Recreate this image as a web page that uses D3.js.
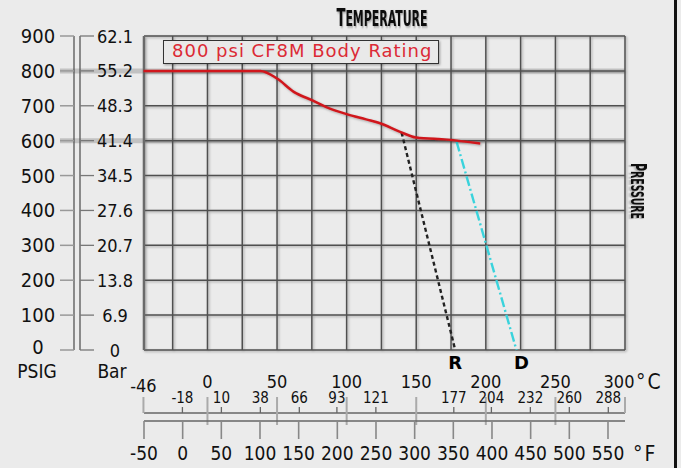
<!DOCTYPE html>
<html>
<head>
<meta charset="utf-8">
<script src="https://cdn.jsdelivr.net/npm/d3@7"></script>
<style>
  body { margin: 0; background: #ebebeb; }
  svg { display: block; font-family: "DejaVu Sans Condensed", "DejaVu Sans", sans-serif; }
</style>
</head>
<body>
<svg id="chart" width="681" height="468"></svg>
<script>
// pressure axes
var psigTicks = [0, 100, 200, 300, 400, 500, 600, 700, 800, 900];
var barTicks = ["0", "6.9", "13.8", "20.7", "27.6", "34.5", "41.4", "48.3", "55.2", "62.1"];
// temperature axes
var cMajor = [-46, 0, 50, 100, 150, 200, 250, 300];
var cMinor = [-18, 10, 38, 66, 93, 121, 177, 204, 232, 260, 288];
var fTicks = [-50, 0, 50, 100, 150, 200, 250, 300, 350, 400, 450, 500, 550];
var cGrid = [-25, 0, 25, 50, 75, 100, 125, 150, 175, 200, 225, 250, 275];
// body rating curve (degC, psig)
var ratingC = [-46, 38, 50, 62, 75, 85, 100, 114, 124, 138, 150, 172, 196];
var ratingP = [800, 800, 778, 740, 716, 697, 676, 661, 650, 626, 609, 603, 592];
// R and D lines (degC, psig)
var rC = [139.5, 178], rP = [623, 0];
var dC = [179, 222], dP = [597, 0];

var svg = d3.select("#chart");
var pLeft = 144, pRight = 625, pTop = 36, pBottom = 350;

var x = d3.scaleLinear().domain([-45.6, 300]).range([pLeft, pRight]);
var xF = d3.scaleLinear().domain([-50, 572]).range([pLeft, pRight]);
var y = d3.scaleLinear().domain([0, 900]).range([pBottom, pTop]);

// drop shadows: page units for flat lines, box units for text
var defs = svg.append("defs");
var sh = defs.append("filter").attr("id", "shadow").attr("filterUnits", "userSpaceOnUse")
    .attr("x", 0).attr("y", 0).attr("width", 681).attr("height", 468);
sh.append("feDropShadow").attr("dx", 1.2).attr("dy", 1.2).attr("stdDeviation", 0.9)
    .attr("flood-color", "#000").attr("flood-opacity", 0.3);
var tsh = defs.append("filter").attr("id", "tshadow")
    .attr("x", "-20%").attr("y", "-30%").attr("width", "140%").attr("height", "160%");
tsh.append("feDropShadow").attr("dx", 1.5).attr("dy", 1.5).attr("stdDeviation", 1)
    .attr("flood-color", "#000").attr("flood-opacity", 0.3);

// right frame
svg.append("line").attr("x1", 675.5).attr("x2", 675.5).attr("y1", 0).attr("y2", 468)
    .attr("stroke", "#111").attr("stroke-width", 3);

// grid
var grid = svg.append("g").attr("class", "grid");
[600, 800].forEach(function(v) {
    grid.append("line").attr("x1", 60).attr("x2", pRight).attr("y1", y(v)).attr("y2", y(v))
        .attr("stroke", "#c2c2c2").attr("stroke-width", 5);
});
var gl = grid.append("g").attr("filter", "url(#shadow)");
gl.selectAll(".h").data(psigTicks).enter().append("line")
    .attr("x1", pLeft).attr("x2", pRight)
    .attr("y1", function(d) { return y(d); }).attr("y2", function(d) { return y(d); })
    .attr("stroke", "#505050").attr("stroke-width", 1.5);
gl.selectAll(".v").data([-45.6].concat(cGrid, [300])).enter().append("line")
    .attr("x1", function(d) { return x(d); }).attr("x2", function(d) { return x(d); })
    .attr("y1", pTop).attr("y2", pBottom)
    .attr("stroke", "#505050").attr("stroke-width", 1.5);
gl.append("line").attr("x1", pLeft).attr("x2", pLeft).attr("y1", pTop).attr("y2", pBottom)
    .attr("stroke", "#6a6a6a").attr("stroke-width", 2.5);

// PSIG axis
var pAxis = svg.append("g");
pAxis.append("line").attr("x1", 74).attr("x2", 74).attr("y1", pTop).attr("y2", pBottom)
    .attr("stroke", "#555").attr("stroke-width", 1.3);
pAxis.selectAll(".t").data(psigTicks).enter().append("line")
    .attr("x1", 60).attr("x2", 74)
    .attr("y1", function(d) { return y(d); }).attr("y2", function(d) { return y(d); })
    .attr("stroke", "#999").attr("stroke-width", 1.5);
pAxis.selectAll("text").data(psigTicks).enter().append("text")
    .attr("x", 38).attr("y", function(d) { return y(d) + (d === 0 ? 4 : 7); })
    .attr("text-anchor", "middle").attr("font-size", 20).attr("fill", "#111")
    .text(function(d) { return d; });

// Bar axis
var bAxis = svg.append("g");
bAxis.append("line").attr("x1", 80).attr("x2", 80).attr("y1", pTop).attr("y2", pBottom)
    .attr("stroke", "#555").attr("stroke-width", 1.3);
bAxis.selectAll(".t").data(psigTicks).enter().append("line")
    .attr("x1", 80).attr("x2", 94)
    .attr("y1", function(d) { return y(d); }).attr("y2", function(d) { return y(d); })
    .attr("stroke", "#777").attr("stroke-width", 1.3);
bAxis.selectAll("text").data(barTicks).enter().append("text")
    .attr("x", 115).attr("y", function(d, i) { return y(psigTicks[i]) + 6.5; })
    .attr("text-anchor", "middle").attr("font-size", 18).attr("fill", "#111")
    .text(function(d) { return d; });

svg.append("text").attr("x", 37).attr("y", 378).attr("text-anchor", "middle")
    .attr("font-size", 19).attr("fill", "#111").text("PSIG");
svg.append("text").attr("x", 112).attr("y", 378).attr("text-anchor", "middle")
    .attr("font-size", 19).attr("fill", "#111").text("Bar");

// Celsius axis
var cy = 413;
var cAxis = svg.append("g");
cAxis.append("line").attr("x1", pLeft).attr("x2", pRight).attr("y1", cy).attr("y2", cy)
    .attr("stroke", "#666").attr("stroke-width", 1.3);
cAxis.selectAll(".maj").data(cMajor).enter().append("line")
    .attr("x1", function(d) { return x(d); }).attr("x2", function(d) { return x(d); })
    .attr("y1", 397).attr("y2", function(d) { return d === -46 || d === 300 ? cy : 425; })
    .attr("stroke", "#aaa").attr("stroke-width", 2);
cAxis.selectAll(".min").data(cMinor).enter().append("line")
    .attr("x1", function(d) { return x(d); }).attr("x2", function(d) { return x(d); })
    .attr("y1", 407).attr("y2", cy)
    .attr("stroke", "#666").attr("stroke-width", 1.3);
cAxis.selectAll(".majl").data(cMajor).enter().append("text")
    .attr("x", function(d) { return x(d) - (d === 300 ? 6 : 0); })
    .attr("y", function(d) { return d === -46 ? 392 : 388; })
    .attr("text-anchor", "middle").attr("font-size", 18).attr("fill", "#111")
    .text(function(d) { return d; });
cAxis.selectAll(".minl").data(cMinor).enter().append("text")
    .attr("x", function(d) { return x(d); }).attr("y", 403)
    .attr("text-anchor", "middle").attr("font-size", 15).attr("fill", "#111")
    .text(function(d) { return d; });
svg.append("text").attr("x", 636).attr("y", 389).attr("font-size", 21)
    .attr("letter-spacing", 2).attr("fill", "#111").text("°C");

// Fahrenheit axis
var fy = 421;
var fAxis = svg.append("g");
fAxis.append("line").attr("x1", pLeft).attr("x2", pRight).attr("y1", fy).attr("y2", fy)
    .attr("stroke", "#666").attr("stroke-width", 1.3);
fAxis.selectAll(".t").data(fTicks).enter().append("line")
    .attr("x1", function(d) { return xF(d); }).attr("x2", function(d) { return xF(d); })
    .attr("y1", fy).attr("y2", 439)
    .attr("stroke", "#888").attr("stroke-width", 1.6);
fAxis.selectAll("text").data(fTicks).enter().append("text")
    .attr("x", function(d) { return xF(d); }).attr("y", 460)
    .attr("text-anchor", "middle").attr("font-size", 19).attr("fill", "#111")
    .text(function(d) { return d; });
svg.append("text").attr("x", 633).attr("y", 461).attr("font-size", 21)
    .attr("letter-spacing", 2).attr("fill", "#111").text("°F");

// rating curve and R / D lines
var line = d3.line()
    .x(function(d) { return x(d[0]); })
    .y(function(d) { return y(d[1]); });

svg.append("path")
    .datum(d3.zip(rC, rP))
    .attr("d", line).attr("fill", "none")
    .attr("stroke", "#222").attr("stroke-width", 2.4).attr("stroke-dasharray", "4,3");
svg.append("path")
    .datum(d3.zip(dC, dP))
    .attr("d", line).attr("fill", "none")
    .attr("stroke", "#3ad3dc").attr("stroke-width", 2.4).attr("stroke-dasharray", "10,3,2,3");
svg.append("path")
    .datum(d3.zip(ratingC, ratingP))
    .attr("d", line.curve(d3.curveMonotoneX)).attr("fill", "none")
    .attr("stroke", "#d0181c").attr("stroke-width", 2.5)
    .attr("filter", "url(#shadow)");

svg.append("text").attr("x", x(178)).attr("y", 369).attr("text-anchor", "middle")
    .attr("font-family", "DejaVu Sans").attr("font-weight", "bold").attr("font-size", 18).text("R");
svg.append("text").attr("x", x(222) + 5).attr("y", 369).attr("text-anchor", "middle")
    .attr("font-family", "DejaVu Sans").attr("font-weight", "bold").attr("font-size", 18).text("D");

// legend box
svg.append("rect").attr("x", 163.5).attr("y", 40.5).attr("width", 275).attr("height", 23)
    .attr("fill", "#e9e9e9").attr("stroke", "#333").attr("stroke-width", 1)
    .attr("filter", "url(#shadow)");
svg.append("text").attr("x", 172).attr("y", 57).attr("font-family", "DejaVu Sans")
    .attr("font-size", 18).attr("letter-spacing", 1).attr("fill", "#dc2a35")
    .text("800 psi CF8M Body Rating");

// titles
var tt = svg.append("text").attr("transform", "translate(382,26) scale(0.58,1)")
    .attr("text-anchor", "middle").attr("font-weight", "bold").attr("fill", "#111")
    .attr("filter", "url(#tshadow)");
tt.append("tspan").attr("font-size", 25).text("T");
tt.append("tspan").attr("font-size", 21).text("EMPERATURE");

var pt = svg.append("text").attr("transform", "translate(631,191) rotate(90) scale(0.58,1)")
    .attr("text-anchor", "middle").attr("font-weight", "bold").attr("fill", "#111")
    .attr("filter", "url(#tshadow)");
pt.append("tspan").attr("font-size", 21).text("P");
pt.append("tspan").attr("font-size", 18).text("RESSURE");
</script>
</body>
</html>
